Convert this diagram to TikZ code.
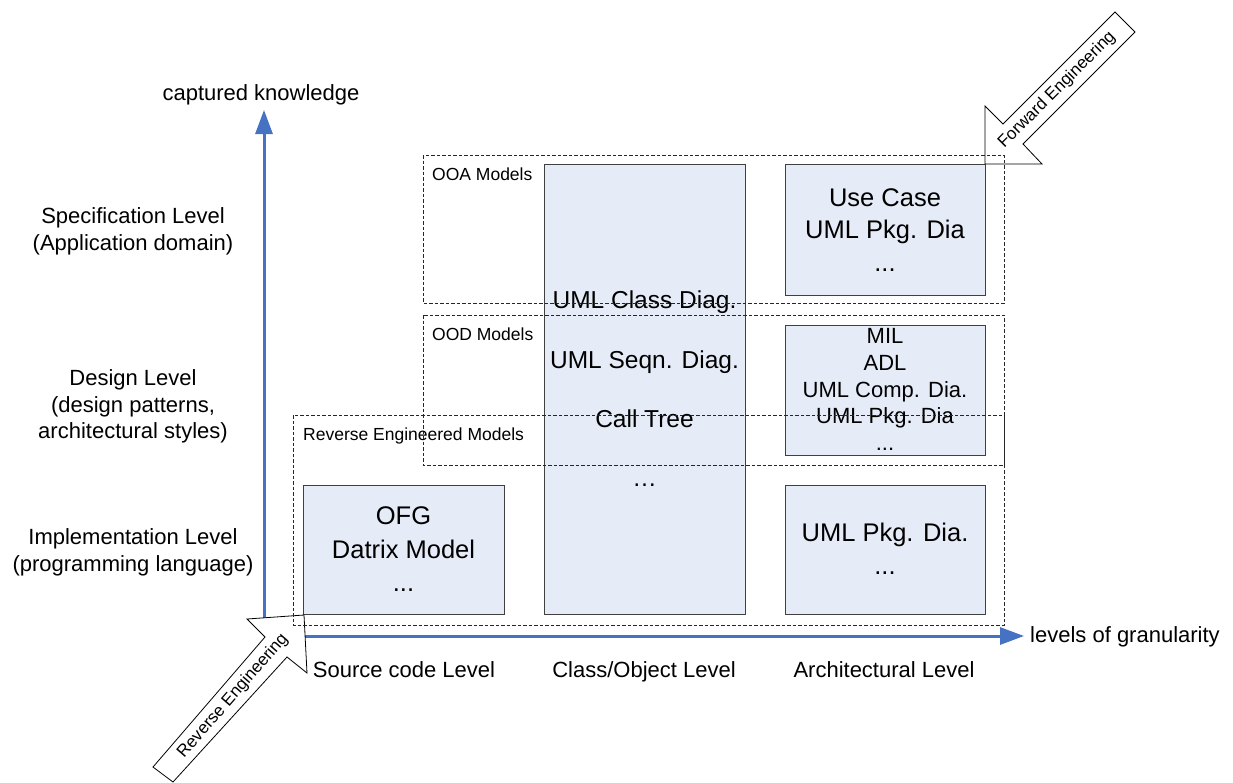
\documentclass[tikz,border=0pt]{standalone}
\usepackage{fontspec}
\setmainfont{Liberation Sans}
\usetikzlibrary{arrows.meta}
\definecolor{axisblue}{RGB}{70,114,196}
\definecolor{boxfill}{RGB}{230,236,247}
\definecolor{boxline}{RGB}{64,64,64}

\begin{document}
\begin{tikzpicture}[x=1pt,y=-1pt,
  axis/.style={draw=axisblue, line width=3pt, -{Triangle[length=24pt,width=17pt]}},
  model/.style={draw=boxline, line width=0.9pt, fill=boxfill},
  group/.style={draw=black!85, line width=0.8pt, dash pattern=on 3.5pt off 2pt},
  bigarrow/.style={fill=white, draw=black, line width=0.8pt, line join=miter},
  lbl/.style={inner sep=0pt, anchor=base, font=\fontsize{22}{26}\selectfont},
  grp/.style={inner sep=0pt, anchor=base west, font=\fontsize{17.5}{20}\selectfont},
  bigtxt/.style={inner sep=0pt, anchor=base, font=\fontsize{25.5}{30}\selectfont},
  midtxt/.style={inner sep=0pt, anchor=base, font=\fontsize{24.5}{30}\selectfont},
  smalltxt/.style={inner sep=0pt, anchor=base, font=\fontsize{22}{26}\selectfont},
  arrtxt/.style={inner sep=0pt, font=\fontsize{17}{20}\selectfont}
]
\useasboundingbox (0,0) rectangle (1233,782);
\fill[white] (0,0) rectangle (1233,782);

% axes
\coordinate (origin) at (264,636);
\coordinate (ytip) at (264,110);
\coordinate (xtip) at (1024,636);
\draw[axis] (origin) -- (ytip);
\draw[axis] (origin) -- (xtip);

\node[lbl] (yaxis) at (261,100) {captured knowledge};
\node[lbl, anchor=base west] (gran) at (1030,642) {levels of granularity};

% abstraction levels
\node[lbl] (spec1) at (133,223) {Specification Level};
\node[lbl] (spec2) at (133,250) {(Application domain)};
\node[lbl] (des1) at (133,385) {Design Level};
\node[lbl] (des2) at (133,412) {(design patterns,};
\node[lbl] (des3) at (133,438) {architectural styles)};
\node[lbl] (imp1) at (133,544) {Implementation Level};
\node[lbl] (imp2) at (133,571) {(programming language)};

% granularity levels
\node[lbl] (src) at (404,677) {Source code Level};
\node[lbl] (cls) at (644,677) {Class/Object Level};
\node[lbl] (arch) at (884,677) {Architectural Level};

% model boxes
\draw[model] (544,164) rectangle (745,614);
\draw[model] (785,164) rectangle (985,295);
\draw[model] (785,325) rectangle (985,455);
\draw[model] (785,485) rectangle (985,614);
\draw[model] (303,485) rectangle (504,614);

\node[midtxt] (m1) at (644.5,308) {UML Class Diag.};
\node[midtxt] (m2) at (644.5,368) {UML Seqn. Diag.};
\node[midtxt] (m3) at (644.5,427) {Call Tree};
\node[midtxt] (m4) at (644.5,486) {…};

\node[bigtxt] (u1) at (885,206) {Use Case};
\node[bigtxt] (u2) at (885,238) {UML Pkg. Dia};
\node[bigtxt] (u3) at (885,271) {...};

\node[smalltxt] (d1) at (885,343) {MIL};
\node[smalltxt] (d2) at (885,370) {ADL};
\node[smalltxt] (d3) at (885,397) {UML Comp. Dia.};
\node[smalltxt] (d4) at (885,423) {UML Pkg. Dia};
\node[smalltxt] (d5) at (885,450) {...};

\node[bigtxt] (p1) at (885,541) {UML Pkg. Dia.};
\node[bigtxt] (p2) at (885,574) {...};

\node[bigtxt] (o1) at (403.5,524) {OFG};
\node[bigtxt] (o2) at (403.5,558) {Datrix Model};
\node[bigtxt] (o3) at (403.5,591) {...};

% engineering direction arrows
\draw[bigarrow] (985,164) -- (985,106) -- (1003,124) -- (1115,12) -- (1135,32)
  -- (1023,144) -- (1042,164) -- cycle;
\node[arrtxt, rotate=45] (fwd) at (1057,90) {Forward Engineering};

\draw[bigarrow] (304,615) -- (247,619) -- (265,637) -- (153,767) -- (173,782)
  -- (287,657) -- (307,673) -- cycle;
\node[arrtxt, rotate=49] (rev) at (233,696) {Reverse Engineering};

% model groups
\draw[group] (423,155) rectangle (1004,303);
\draw[group] (423,315) rectangle (1004,465);
\draw[group] (293,415) rectangle (1004,625);
\node[grp] (ooa) at (432,180) {OOA Models};
\node[grp] (ood) at (432,340) {OOD Models};
\node[grp] (rem) at (303,440) {Reverse Engineered Models};
\end{tikzpicture}
\end{document}
